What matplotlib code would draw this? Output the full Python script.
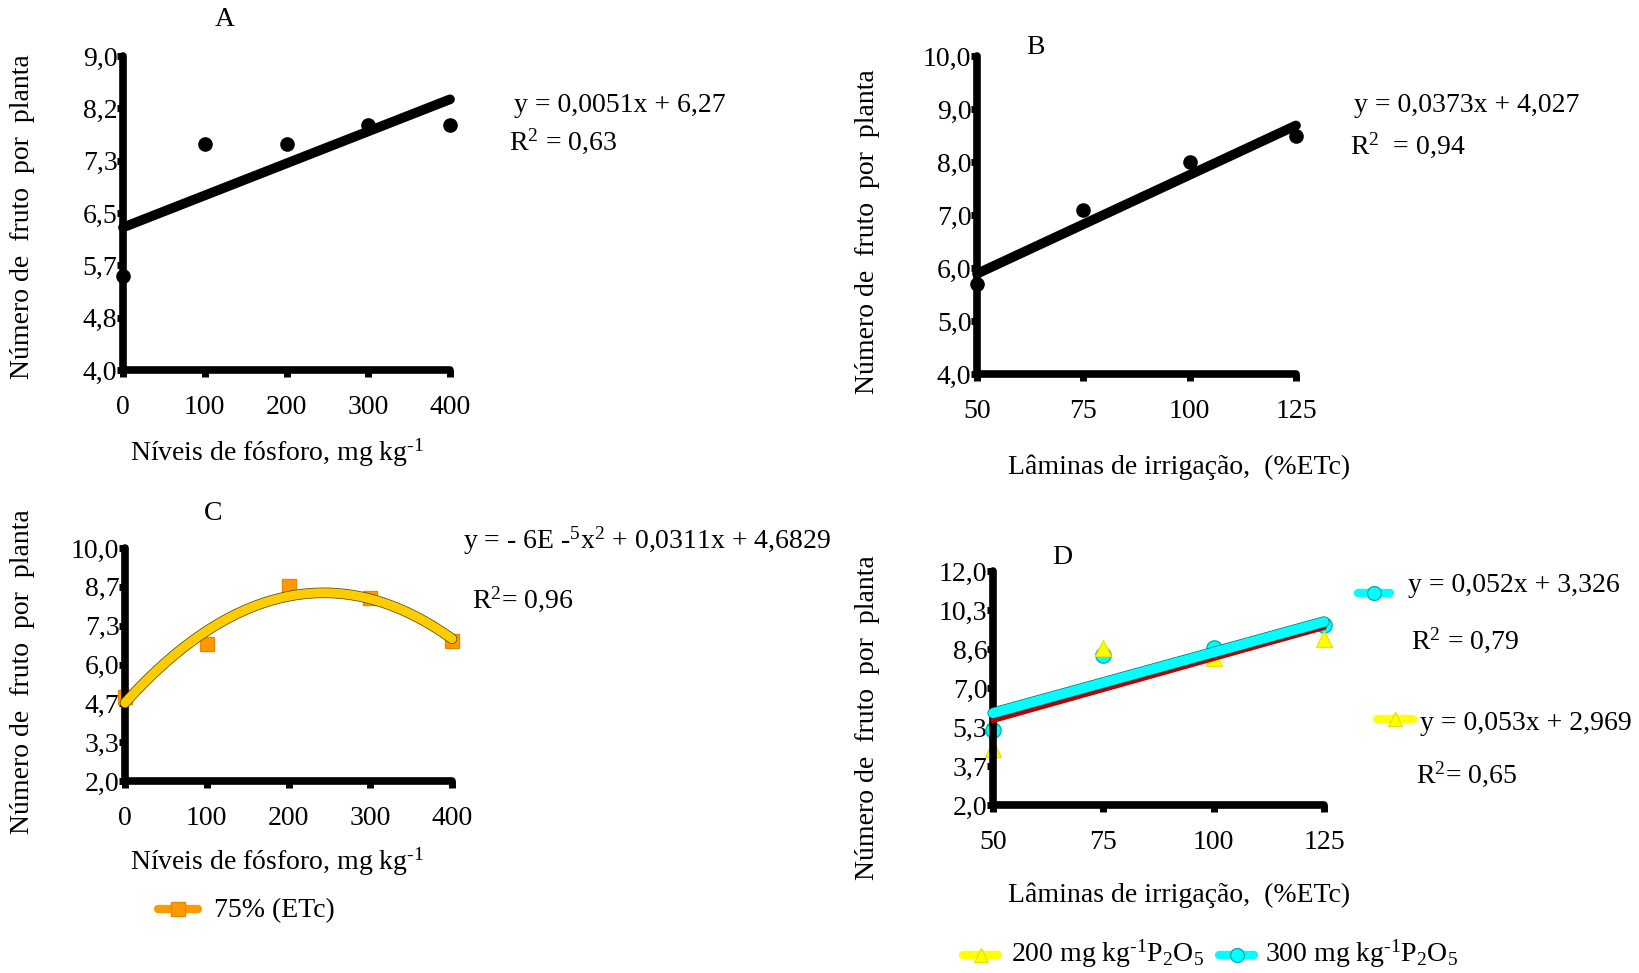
import matplotlib
matplotlib.use("Agg")
import matplotlib.pyplot as plt
import matplotlib.patheffects as pe
import numpy as np
from matplotlib.lines import Line2D

# dados: número de frutos por planta
fosforo = [0, 100, 200, 300, 400]          # mg kg-1
laminas = [50, 75, 100, 125]               # % ETc

frutos_fosforo = [5.5, 7.6, 7.6, 7.9, 7.9]
frutos_laminas = [5.7, 7.1, 8.0, 8.5]
frutos_75etc = [4.9, 6.7, 8.7, 8.3, 6.8]
frutos_200p = [4.4, 8.7, 8.3, 9.1]
frutos_300p = [5.2, 8.4, 8.7, 9.7]

# coeficientes das linhas de tendência (polyval, maior grau primeiro)
coef_a = [0.0051, 6.27]
coef_b = [0.0373, 4.027]
coef_c = [-6.4e-5, 0.0311, 4.6829]
coef_d200 = [0.053, 2.969]
coef_d300 = [0.052, 3.326]

yticks_a = ["4,0", "4,8", "5,7", "6,5", "7,3", "8,2", "9,0"]
yticks_b = ["4,0", "5,0", "6,0", "7,0", "8,0", "9,0", "10,0"]
yticks_c = ["2,0", "3,3", "4,7", "6,0", "7,3", "8,7", "10,0"]
yticks_d = ["2,0", "3,7", "5,3", "7,0", "8,6", "10,3", "12,0"]

W, H = 1639, 973
plt.rcParams["font.family"] = "Liberation Serif"
plt.rcParams["mathtext.fontset"] = "custom"
plt.rcParams["mathtext.rm"] = "Liberation Serif"
plt.rcParams["mathtext.it"] = "Liberation Serif:italic"
plt.rcParams["font.size"] = 20

fig = plt.figure(figsize=(W / 100, H / 100), dpi=100)


def at(x, y):
    # pixel (origem no topo) -> fração da figura
    return x / W, 1 - y / H


def box(x0, y0, x1, y1):
    return [x0 / W, 1 - y1 / H, (x1 - x0) / W, (y1 - y0) / H]


def style_axes(ax, xticks, ylim, ylabels, xlabel, xlabel_xy, ylabel_xy):
    ax.set_xlim(xticks[0], xticks[-1])
    ax.set_ylim(*ylim)
    ax.set_xticks(xticks)
    ax.set_xticklabels([str(t) for t in xticks])
    ax.set_yticks(np.linspace(ylim[0], ylim[1], len(ylabels)))
    ax.set_yticklabels(ylabels)
    for s in ("top", "right"):
        ax.spines[s].set_visible(False)
    for s in ("left", "bottom"):
        ax.spines[s].set_linewidth(5.5)
        ax.spines[s].set_capstyle("round")
    ax.tick_params(axis="y", length=4, width=5, pad=0, labelsize=20)
    ax.tick_params(axis="x", length=5, width=5, pad=13, labelsize=20)
    ax.set_xlabel(xlabel, fontsize=20)
    ax.xaxis.set_label_coords(*at(*xlabel_xy), transform=fig.transFigure)
    ax.xaxis.label.set_va("center")
    ax.set_ylabel("Número de  fruto  por  planta", fontsize=20)
    ax.yaxis.set_label_coords(*at(*ylabel_xy), transform=fig.transFigure)
    ax.yaxis.label.set_va("center")
    ax.patch.set_visible(False)


def trend(ax, coef, x, **kw):
    xs = np.linspace(min(x), max(x), 200)
    return ax.plot(xs, np.polyval(coef, xs), solid_capstyle="round", clip_on=False, **kw)


def key(x0, x1, y, **kw):
    # chave de legenda solta, desenhada direto na figura
    fig.add_artist(Line2D([x0 / W, (x0 + x1) / 2 / W, x1 / W], [1 - y / H] * 3,
                          transform=fig.transFigure, markevery=[1],
                          solid_capstyle="round", **kw))


kg = r"kg$^{\text{-}1}$"
xl_fosforo = "Níveis de fósforo, mg " + kg
xl_laminas = "Lâminas de irrigação,  (%ETc)"

# A - fósforo
ax_a = fig.add_axes(box(123, 56, 450, 370))
style_axes(ax_a, fosforo, (4, 9), yticks_a, xl_fosforo, (277, 453), (23, 217))
ax_a.plot(fosforo, frutos_fosforo, "o", color="black", ms=9.5, clip_on=False, zorder=3)
trend(ax_a, coef_a, fosforo, color="black", lw=7, zorder=3)
fig.text(*at(225, 19), "A", ha="center", va="center")
fig.text(*at(514, 105), "y = 0,0051x + 6,27", va="center")
fig.text(*at(509, 141), "R$^2$ = 0,63", va="center")

# B - lâminas
ax_b = fig.add_axes(box(977, 56, 1296, 374))
style_axes(ax_b, laminas, (4, 10), yticks_b, xl_laminas, (1179, 467), (868, 232))
ax_b.plot(laminas, frutos_laminas, "o", color="black", ms=9.5, clip_on=False, zorder=3)
trend(ax_b, coef_b, laminas, color="black", lw=7, zorder=3)
fig.text(*at(1035, 48), "B", ha="center", va="center")
fig.text(*at(1354, 105), "y = 0,0373x + 4,027", va="center")
fig.text(*at(1350, 145), "R$^2$  = 0,94", va="center")

# C - fósforo com 75% ETc
ax_c = fig.add_axes(box(125, 548, 452, 781))
style_axes(ax_c, fosforo, (2, 10), yticks_c, xl_fosforo, (277, 862), (23, 672))
ax_c.plot(fosforo, frutos_75etc, "s", color="#FF9900", mec="#E88A00", ms=10,
          clip_on=False, zorder=2)
trend(ax_c, coef_c, fosforo, color="#FFCC00", lw=6.5, zorder=3,
      path_effects=[pe.Stroke(linewidth=7.6, foreground="#5a4a00"), pe.Normal()])
fig.text(*at(213, 514), "C", ha="center", va="center")
a2 = coef_c[0]
fig.text(*at(463, 541), "y = - %dE -$^{5}$x$^{2}$ + 0,0311x + 4,6829" % round(-a2 * 1e5),
         va="center")
fig.text(*at(472, 599), "R$^2$= 0,96", va="center")
key(158, 198, 909, color="#FF9900", lw=6, marker="s", ms=10, mec="#E88A00")
fig.text(*at(214, 911), "75% (ETc)", va="center")

# D - lâminas com duas doses de P2O5
ax_d = fig.add_axes(box(993, 571, 1324, 805))
style_axes(ax_d, laminas, (2, 12), yticks_d, xl_laminas, (1179, 895), (868, 718))
ax_d.plot(laminas, frutos_300p, "o", color="#00FFFF", mec="#00B0B0", ms=11,
          clip_on=False, zorder=2)
ax_d.plot(laminas, frutos_200p, "^", color="#FFFF00", mec="#E6E600", ms=11,
          clip_on=False, zorder=2)
trend(ax_d, coef_d200, laminas, color="#C00000", lw=4, zorder=3)
trend(ax_d, coef_d300, laminas, color="#00FFFF", lw=7, zorder=4,
      path_effects=[pe.Stroke(linewidth=8, foreground="#006b6b"), pe.Normal()])
fig.text(*at(1062, 558), "D", ha="center", va="center")
key(1358, 1390, 593, color="#00FFFF", lw=6, marker="o", ms=10, mec="#00B0B0")
fig.text(*at(1408, 585), "y = 0,052x + 3,326", va="center")
fig.text(*at(1411, 640), "R$^2$ = 0,79", va="center")
key(1377, 1413, 719, color="#FFFF00", lw=6, marker="^", ms=10, mec="#E6E600")
fig.text(*at(1420, 724), "y = 0,053x + 2,969", va="center")
fig.text(*at(1416, 774), "R$^2$= 0,65", va="center")

key(963, 998, 955, color="#FFFF00", lw=6, marker="^", ms=10, mec="#E6E600")
fig.text(*at(1011, 954), "200 mg " + kg + "P$_2$O$_5$", va="center")
key(1219, 1254, 955, color="#00FFFF", lw=6, marker="o", ms=10, mec="#00B0B0")
fig.text(*at(1265, 954), "300 mg " + kg + "P$_2$O$_5$", va="center")

fig.savefig("out.png", dpi=100, facecolor="white")
